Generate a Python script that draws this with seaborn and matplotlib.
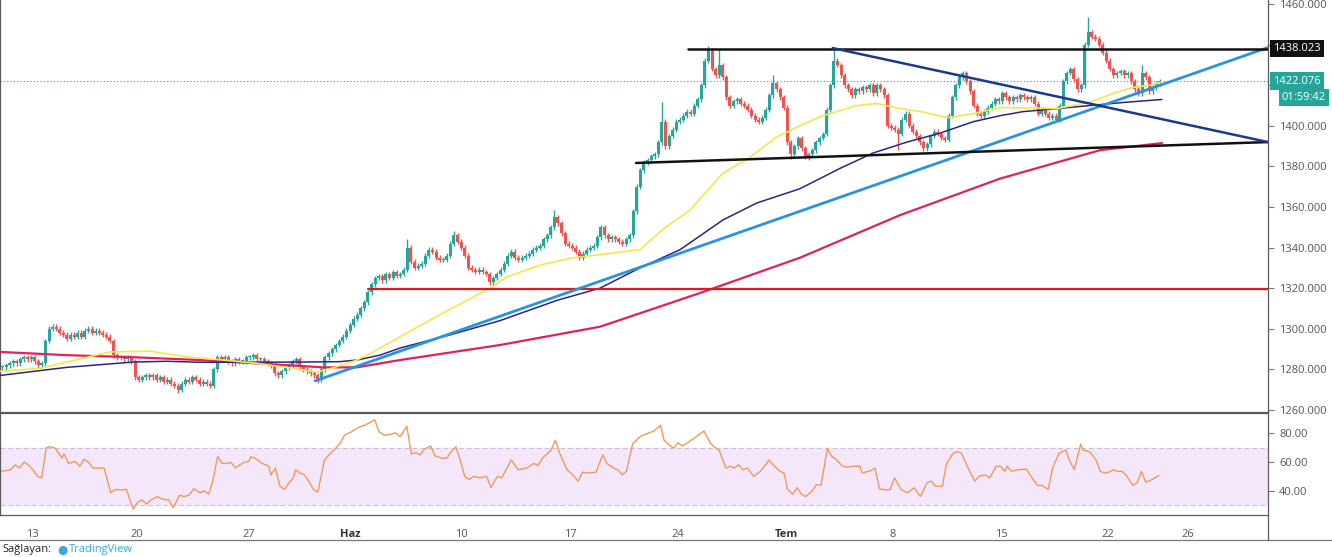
import numpy as np
import matplotlib
matplotlib.use("Agg")
import matplotlib.pyplot as plt
import matplotlib.transforms as mtransforms
from matplotlib.lines import Line2D
import seaborn as sns

# 4h gold candles, 6 per trading day; the first 9 bars come before May 13
closes = [
    1281, 1282, 1283, 1284, 1283, 1285, 1286, 1285, 1286,
    1284, 1282, 1283, 1294, 1300, 1301,   # 13 May
    1300, 1298, 1297, 1295, 1297, 1296,
    1298, 1296, 1299, 1300, 1298, 1299,
    1298, 1297, 1296, 1294, 1287, 1286,
    1286, 1285, 1286, 1284, 1276, 1275,
    1276, 1277, 1276, 1277, 1275, 1276,   # 20 May
    1274, 1275, 1273, 1272, 1270, 1273,
    1275, 1274, 1276, 1275, 1273, 1274,
    1273, 1272, 1280, 1286, 1285, 1286,
    1284, 1283, 1285, 1284, 1284, 1286,
    1286, 1287, 1285, 1285, 1284, 1283,   # 27 May
    1282, 1278, 1277, 1279, 1281, 1282,
    1284, 1285, 1281, 1280, 1279, 1278,
    1277, 1275, 1280, 1286, 1288, 1290,
    1292, 1294, 1296, 1299, 1302, 1305,
    1307, 1310, 1313, 1318, 1322, 1325,   # June
    1326, 1324, 1327, 1325, 1328, 1326,
    1327, 1329, 1340, 1333, 1330, 1331,
    1332, 1336, 1339, 1338, 1335, 1334,
    1334, 1336, 1342, 1346, 1343, 1340,
    1336, 1330, 1329, 1328, 1329, 1328,   # 10 Jun
    1327, 1323, 1325, 1327, 1329, 1332,
    1336, 1338, 1335, 1334, 1335, 1336,
    1337, 1339, 1340, 1341, 1344, 1346,
    1350, 1355, 1352, 1347, 1342, 1341,
    1340, 1338, 1335, 1337, 1339, 1340,   # 17 Jun
    1341, 1345, 1350, 1346, 1344, 1345,
    1344, 1343, 1342, 1344, 1346, 1358,
    1370, 1378, 1382, 1383, 1385, 1386,
    1392, 1402, 1390, 1395, 1398, 1402,
    1403, 1405, 1407, 1406, 1410, 1413,   # 24 Jun
    1420, 1432, 1437, 1428, 1425, 1430,
    1424, 1414, 1410, 1412, 1413, 1411,
    1410, 1408, 1405, 1403, 1402, 1404,
    1408, 1415, 1421, 1418, 1414, 1409,
    1392, 1386, 1390, 1394, 1389, 1385,   # July
    1386, 1388, 1392, 1394, 1396, 1408,
    1420, 1432, 1430, 1425, 1420, 1418,
    1415, 1418, 1417, 1419, 1418, 1420,
    1416, 1420, 1418, 1415, 1400, 1399,
    1398, 1396, 1403, 1406, 1400, 1397,   # 8 Jul
    1395, 1392, 1389, 1391, 1395, 1397,
    1396, 1394, 1393, 1405, 1414, 1420,
    1424, 1426, 1422, 1417, 1410, 1406,
    1405, 1407, 1409, 1411, 1413, 1412,
    1416, 1414, 1412, 1414, 1413, 1415,   # 15 Jul
    1414, 1413, 1414, 1411, 1406, 1408,
    1406, 1404, 1405, 1403, 1410, 1422,
    1426, 1428, 1423, 1418, 1420, 1440,
    1446, 1444, 1443, 1440, 1436, 1432,
    1428, 1425, 1426, 1427, 1425, 1426,   # 22 Jul
    1422, 1418, 1416, 1426, 1424, 1417,
    1419, 1421, 1422.076,
]
first_open = 1281
spike_highs = {113: 1344, 126: 1348, 154: 1358.5, 184: 1411.5, 197: 1439.5,
               200: 1438, 215: 1425, 232: 1437.5, 303: 1453.5, 318: 1430}
spike_lows = {49: 1268.5, 88: 1273.5, 220: 1383.5, 225: 1383, 250: 1388}

# moving averages (trading-day position, price)
ma50_day = [-1.53, 0.33, 1.72, 3.58, 5.44, 7.3, 8.84, 10.42, 11.95, 13.2, 13.95, 15.07,
            16.0, 17.07, 18.93, 20.19, 21.26, 22.05, 23.58, 25.12, 26.37, 28.23, 29.3,
            30.56, 32.09, 33.35, 34.6, 35.67, 36.74, 38.33, 39.26, 40.19, 41.4, 42.51,
            43.72, 44.98, 46.05, 47.63, 49.16, 50.42, 51.16, 51.95, 52.51]
ma50_val = [1279, 1280.5, 1284, 1288.6, 1289, 1286, 1284.6, 1283, 1280.7, 1278.7, 1280.7,
            1284.6, 1289.6, 1296, 1307, 1314, 1320, 1325.5, 1331.4, 1335, 1336.5, 1339,
            1349, 1358.5, 1376.7, 1384.6, 1394.5, 1400, 1405, 1410, 1411, 1408.8, 1406.8,
            1404, 1406, 1409, 1408.8, 1408.5, 1411.7, 1416.6, 1419, 1420, 1421.6]
ma100_day = [-1.53, 1.58, 4.65, 6.23, 7.77, 12.42, 14.28, 15.07, 16.14, 17.07, 19.4,
             21.72, 24.37, 26.37, 28.23, 30.1, 32.09, 33.67, 35.67, 37.53, 39.07, 40.65,
             42.19, 43.72, 44.98, 46.05, 47.63, 49.16, 50.7, 52.51]
ma100_val = [1277, 1281, 1283.6, 1284, 1283.5, 1283.6, 1283.8, 1284.6, 1287, 1290.5, 1297,
             1304, 1314, 1320, 1330, 1339, 1353.6, 1362, 1369, 1379, 1386.6, 1392,
             1396.4, 1402, 1405, 1407, 1408.5, 1410, 1411.5, 1413]
ma200_day = [-1.53, 1.58, 4.65, 7.77, 11.95, 13.5, 15.07, 17.07, 21.72, 26.37, 31.02,
             35.67, 40.33, 44.98, 49.63, 52.51]
ma200_val = [1288.6, 1287, 1286, 1284.6, 1282, 1281, 1281, 1284.6, 1292, 1301, 1317.6,
             1335, 1356, 1374, 1388, 1391.5]

# hand-drawn trend lines (start, end)
line_blue_day, line_blue_val = [13.12, 57.44], [1274.3, 1438.6]
line_top_day, line_top_val = [30.47, 57.44], [1438.023, 1438.023]
line_low_day, line_low_val = [28.05, 57.44], [1381.7, 1392]
line_navy_day, line_navy_val = [37.2, 57.44], [1438.3, 1392]
line_red_day, line_red_val = [15.58, 57.44], [1319.6, 1319.6]
last_price = 1422.076
countdown = "01:59:42"

# RSI
rsi_day = [-1.45, -1.04, -0.83, -0.62, -0.41, -0.21, 0, 0.21, 0.41, 0.62, 0.83, 1.04, 1.35,
           1.45, 1.66, 1.97, 2.17, 2.38, 2.59, 2.79, 3.0, 3.31, 3.62, 3.83, 4.14, 4.35, 4.66,
           4.86, 5.07, 5.28, 5.49, 5.8, 6.0, 6.31, 6.52, 6.83, 7.04, 7.25, 7.49, 7.76, 7.97,
           8.18, 8.38, 8.59, 8.8, 9.0, 9.21, 9.42, 9.63, 9.83, 10.04, 10.14, 10.45, 10.66,
           10.97, 11.07, 11.28, 11.49, 11.7, 11.9, 12.11, 12.21, 12.42, 12.63, 12.83, 13.04,
           13.25, 13.56, 13.87, 14.08, 14.28, 14.49, 14.8, 15.11, 15.42, 15.73, 15.9, 16.1,
           16.35, 16.66, 16.87, 17.08, 17.39, 17.6, 17.8, 18.0, 18.2, 18.5, 18.7, 19.0,
           19.25, 19.46, 19.67, 19.87, 20.08, 20.29, 20.49, 20.8, 21.1, 21.3, 21.6, 21.8,
           22.25, 22.56, 22.98, 23.29, 23.49, 23.7, 24.1, 24.3, 24.5, 24.84, 25.05, 25.36,
           25.56, 25.88, 26.19, 26.5, 26.7, 27.0, 27.2, 27.4, 27.6, 27.9, 28.26, 28.57,
           28.88, 29.19, 29.35, 29.6, 29.8, 30.0, 30.2, 30.5, 30.84, 31.21, 31.31, 31.51,
           31.71, 31.91, 32.22, 32.42, 32.62, 32.82, 33.02, 33.22, 33.52, 33.83, 34.13,
           34.23, 34.43, 34.73, 34.93, 35.1, 35.34, 35.54, 35.74, 35.94, 36.24, 36.44,
           36.65, 36.95, 37.15, 37.35, 37.65, 37.85, 38.16, 38.46, 38.56, 38.96, 39.16,
           39.37, 39.67, 39.87, 40.07, 40.37, 40.67, 40.98, 41.28, 41.58, 41.78, 41.98,
           42.29, 42.49, 42.79, 42.99, 43.19, 43.49, 43.8, 44.0, 44.3, 44.5, 44.8, 45.0,
           45.2, 45.31, 45.51, 45.81, 46.21, 46.41, 46.72, 46.92, 47.22, 47.42, 47.72,
           48.03, 48.23, 48.43, 48.73, 48.83, 49.13, 49.44, 49.64, 49.84, 50.04, 50.24,
           50.44, 50.64, 50.84, 51.15, 51.35, 51.55, 51.75, 52.05, 52.36]
rsi_val = [53.5, 54.6, 58, 55.8, 60, 58, 54.6, 50, 48.9, 70, 70.7, 69.6, 62.7, 65.6, 59,
           60.4, 57, 62, 59.7, 55.8, 55.8, 55.8, 38.5, 40.8, 40.4, 40.8, 27, 31.6, 33.5,
           30.5, 33.5, 35.8, 34, 33.5, 28, 36.7, 35.8, 36.7, 41.3, 38.5, 39.7, 37.4, 47.7,
           63.8, 59, 59, 59.7, 55.8, 58, 59.7, 60.4, 63.8, 61.5, 59, 57, 51, 55.8, 43, 40.8,
           45, 48.9, 54.6, 52.3, 51, 46.6, 40.8, 39, 61.5, 66.6, 69.6, 73, 78.8, 81, 84,
           85.7, 88, 89.6, 81, 78.8, 79.5, 80.4, 77.6, 85, 65.6, 66.6, 65, 68.9, 71.2, 64.3,
           62.7, 62.7, 67.3, 70.7, 61.5, 50, 47.7, 50, 48.9, 50, 42, 50, 48.9, 61.5, 54.6,
           55.8, 59, 57.4, 62.7, 68.4, 75.3, 66, 54.6, 51.9, 46.6, 52.8, 52.3, 52.8, 65, 59,
           55.8, 54.6, 51, 53.5, 73, 78, 80, 81.7, 85.7, 75.3, 71.9, 69.6, 73.5, 71.2, 74,
           77.6, 81.7, 78.8, 73, 70.3, 68.4, 55.8, 57, 55.8, 58, 54.6, 55.8, 50, 53.5, 59,
           61.5, 58, 53.5, 52.3, 40.8, 37.4, 42, 37.4, 35.8, 39.7, 44.3, 43.6, 69.6, 63.8,
           62, 57, 56.5, 57, 57, 52.3, 53.9, 55.8, 41.3, 40.4, 40.8, 48.9, 40.8, 38.5, 42,
           35.8, 45.4, 46.6, 43, 43, 58.8, 66, 67.3, 66, 55.8, 46.6, 50, 51, 48.9, 57, 57,
           53.5, 57, 53.5, 54.6, 55, 50, 43.6, 43.6, 40.8, 55.8, 66, 68.4, 60.4, 54.6, 72.5,
           68.4, 67.3, 61.5, 53.5, 52.3, 52.8, 54.6, 53.5, 53.5, 51, 43.6, 45.4, 53.5, 45.9,
           47.7, 50.5]

tick_labels = ["13", "20", "27", "Haz", "10", "17", "24", "Tem", "8", "15", "22", "26"]
tick_days = [0, 4.85, 10.05, 14.75, 19.95, 25, 30, 35.05, 40, 45.05, 50, 53.7]

sns.set_theme(style="white")
plt.rcParams["font.family"] = ["Open Sans", "DejaVu Sans"]

UP, DOWN = "#26a69a", "#ef5350"
AXIS = "#5a5a5a"

fig = plt.figure(figsize=(13.32, 5.57), dpi=100)
W, H = 1332, 557
ax = fig.add_axes([0, 1 - 412 / H, 1268 / W, 412 / H])
ax2 = fig.add_axes([0, 1 - 515 / H, 1268 / W, 102 / H], sharex=ax)

# candles
c = np.array(closes, dtype=float)
o = np.concatenate([[first_open], c[:-1]])
WICK = 1.2
hi = np.maximum(o, c) + WICK
lo = np.minimum(o, c) - WICK
for k, v in spike_highs.items():
    hi[k] = v
for k, v in spike_lows.items():
    lo[k] = v
pos = (np.arange(len(c)) - 9) / 6 + 1 / 12
cols = np.where(c >= o, UP, DOWN)
ax.vlines(pos, lo, hi, colors=cols, lw=1.0, zorder=3)
body = np.maximum(np.abs(c - o), 0.6)
ax.bar(pos, body, bottom=np.minimum(o, c), width=0.14, color=cols, lw=0, zorder=3)

# moving averages
sns.lineplot(x=ma200_day, y=ma200_val, ax=ax, color="#e0215e", lw=1.6, zorder=4)
sns.lineplot(x=ma100_day, y=ma100_val, ax=ax, color="#2f2480", lw=1.1, zorder=4)
sns.lineplot(x=ma50_day, y=ma50_val, ax=ax, color="#f5e64c", lw=1.2, zorder=4)

# trend lines
ax.plot(line_red_day, line_red_val, color="#e8161b", lw=1.6, zorder=5)
ax.plot(line_blue_day, line_blue_val, color="#2a93e0", lw=2, zorder=5)
ax.plot(line_low_day, line_low_val, color="#111111", lw=1.8, zorder=5)
ax.plot(line_top_day, line_top_val, color="#111111", lw=1.8, zorder=5)
ax.plot(line_navy_day, line_navy_val, color="#1b3a8a", lw=1.8, zorder=5)
ax.axhline(last_price, color="#26a69a", lw=0.8, ls=(0, (1, 2)), zorder=2)

ax.set_xlim(-1.53, 57.44)
ax.set_ylim(1259, 1462)
ax.yaxis.tick_right()
price_ticks = np.arange(1260, 1461, 20)
ax.set_yticks(price_ticks)
# 1420 and 1440 sit behind the price tags
ax.set_yticklabels(["" if v in (1420, 1440) else f"{v:.3f}" for v in price_ticks])
ax.tick_params(axis="y", direction="out", length=4, width=0.8, color="#777",
               labelcolor="#555", labelsize=8, pad=4)
ax.tick_params(axis="x", bottom=False, labelbottom=False)
ax.set_xlabel("")
ax.set_ylabel("")

# price tags on the scale
tr = mtransforms.blended_transform_factory(ax.transAxes, ax.transData)
ax.text(1.004, 1438.023, "1438.023", transform=tr, ha="left", va="center", fontsize=8,
        color="white", bbox=dict(boxstyle="square,pad=0.3", fc="#111111", ec="none"),
        zorder=10, clip_on=False)
ax.text(1.004, last_price, f"{last_price:.3f}", transform=tr, ha="left", va="center",
        fontsize=8, color="white",
        bbox=dict(boxstyle="square,pad=0.3", fc="#26a69a", ec="none"), zorder=10,
        clip_on=False)
ax.text(1.011, 1414.0, countdown, transform=tr, ha="left", va="center", fontsize=8,
        color="white", bbox=dict(boxstyle="square,pad=0.3", fc="#26a69a", ec="none"),
        zorder=10, clip_on=False)

# RSI pane
ax2.axhspan(30, 70, color="#f4e7fc", zorder=0)
ax2.axhline(70, color="#c9c1cf", lw=0.8, ls=(0, (4, 3)))
ax2.axhline(30, color="#c9c1cf", lw=0.8, ls=(0, (4, 3)))
sns.lineplot(x=rsi_day, y=rsi_val, ax=ax2, color="#ef9a5c", lw=1.0)
ax2.set_ylim(22.9, 94.3)
ax2.yaxis.tick_right()
ax2.set_yticks([40, 60, 80])
ax2.set_yticklabels(["40.00", "60.00", "80.00"])
ax2.tick_params(axis="y", direction="out", length=4, width=0.8, color="#777",
                labelcolor="#555", labelsize=8, pad=4)
ax2.set_xticks(tick_days)
ax2.set_xticklabels(tick_labels)
ax2.tick_params(axis="x", direction="out", length=4, width=0.8, color="#777",
                labelcolor="#555", labelsize=8, pad=6)
for lab in ax2.get_xticklabels():
    if lab.get_text() in ("Haz", "Tem"):
        lab.set_color("#333")
        lab.set_fontweight("bold")
ax2.set_xlabel("")
ax2.set_ylabel("")

for a in (ax, ax2):
    for s in a.spines.values():
        s.set_color(AXIS)
        s.set_linewidth(0.9)
ax.spines["top"].set_visible(False)

# outer frame lines below the time scale
fig.add_artist(Line2D([0, 1], [1 - 540 / H] * 2, color="#777", lw=0.9))
fig.add_artist(Line2D([1268 / W] * 2, [1 - 540 / H, 1 - 515 / H], color=AXIS, lw=0.9))

fig.text(2 / W, 1 - 544 / H, "Sağlayan:", fontsize=8, color="#222", va="top")
fig.text(57 / W, 1 - 544 / H, "\u25cf", fontsize=8.5, color="#3aa7e0", va="top")
fig.text(69 / W, 1 - 544 / H, "TradingView", fontsize=8, color="#3aa7e0", va="top")

fig.savefig("out.png", dpi=100)
